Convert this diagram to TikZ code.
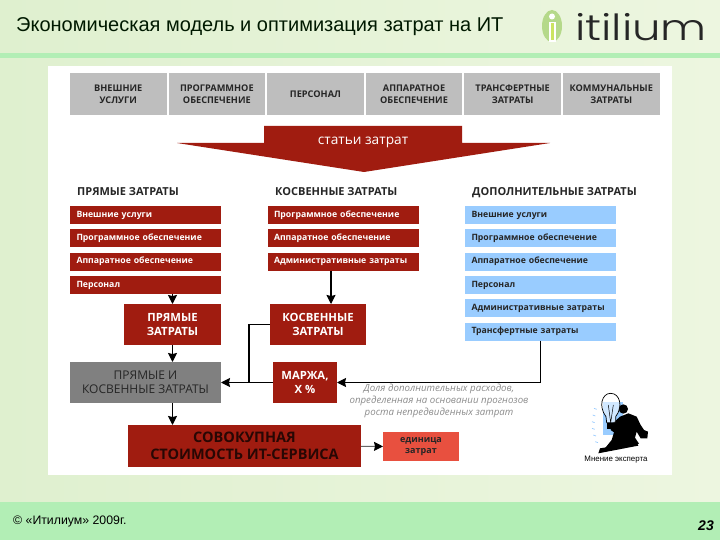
\documentclass[tikz,border=0pt]{standalone}
\usepackage{fontspec}
\setmainfont{Liberation Sans}
\newfontfamily\boxfont{Open Sans}
\newfontfamily\logofont[FakeStretch=1.25,UprightFont=* Light]{Poppins}
\usetikzlibrary{positioning,arrows.meta}
\definecolor{bgleft}{HTML}{DFF0CF}
\definecolor{bgright}{HTML}{EDF6E0}
\definecolor{band}{HTML}{B2EEB5}
\definecolor{topgray}{HTML}{BEBEBE}
\definecolor{midgray}{HTML}{808080}
\definecolor{darkred}{HTML}{A01C10}
\definecolor{addblue}{HTML}{99CCFF}
\definecolor{salmon}{HTML}{E8503F}
\definecolor{logogreen}{HTML}{B5D98A}
\tikzset{
  topbox/.style   = {fill=topgray, align=center, minimum height=42pt, minimum width=96.5pt, outer sep=0pt,
                     inner sep=0pt, text=black!85, font=\boxfont\fontsize{9.2}{12}\selectfont\bfseries},
  listbox/.style  = {align=left, minimum height=18pt, text width=138pt, inner xsep=6.5pt, inner ysep=0pt, outer sep=0pt,
                     text height=6.5pt, text depth=2pt, font=\boxfont\fontsize{8.7}{10}\selectfont\bfseries},
  cost/.style     = {listbox, fill=darkred, text=white},
  extra/.style    = {listbox, fill=addblue, text=black!85},
  head/.style     = {anchor=base west, inner sep=0pt, text=black!85, font=\boxfont\fontsize{11}{12}\selectfont\bfseries},
  sumbox/.style   = {fill=darkred, text=white, align=center, inner sep=0pt, outer sep=0pt, minimum height=41pt,
                     font=\boxfont\fontsize{11.3}{13.5}\selectfont\bfseries},
  arrow/.style    = {-{Stealth[length=9pt,width=9pt,inset=1pt]}, line width=1.1pt},
}
\begin{document}
\begin{tikzpicture}[x=1pt,y=-1pt,node distance=5.3pt and 2.1pt]
  \useasboundingbox (0,0) rectangle (720,540);
  \fill[left color=bgleft, right color=bgright] (0,0) rectangle (720,540);
  \fill[band] (0,53) rectangle (720,58);
  \fill[band] (0,502) rectangle (720,540);
  \fill[white] (48,66) rectangle (672,474.5);

  \node[anchor=west, inner sep=0pt, font=\fontsize{20}{22}\selectfont, text=black!90!green] (title) at (16,27)
    {Экономическая модель и оптимизация затрат на ИТ};
  \node[anchor=west, inner sep=0pt, font=\fontsize{12.3}{14}\selectfont] (copy) at (13,521) {© «Итилиум» 2009г.};
  \node[inner sep=0pt, font=\fontsize{14}{16}\selectfont\bfseries\itshape] (page) at (706,526) {23};

  % logo
  \fill[logogreen] (552,26) ellipse (10 and 16);
  \fill[white] (552,16.5) circle (3);
  \fill[white] (548.5,22) rectangle (555.5,42);
  \fill[logogreen!70!yellow] (550.5,23) rectangle (553.5,40);
  \node[anchor=base west, inner sep=0pt, font=\logofont\fontsize{36}{40}\selectfont, text=black!85] (logo) at (575,40.5) {itilium};

  % source row
  \node[topbox] (ext) at (118.25,94) {ВНЕШНИЕ\\УСЛУГИ};
  \node[topbox, right=of ext]  (soft) {ПРОГРАММНОЕ\\ОБЕСПЕЧЕНИЕ};
  \node[topbox, right=of soft] (staff) {ПЕРСОНАЛ};
  \node[topbox, right=of staff] (hard) {АППАРАТНОЕ\\ОБЕСПЕЧЕНИЕ};
  \node[topbox, right=of hard] (trans) {ТРАНСФЕРТНЫЕ\\ЗАТРАТЫ};
  \node[topbox, right=of trans] (util) {КОММУНАЛЬНЫЕ\\ЗАТРАТЫ};

  \fill[darkred] (264,126) -- (462,126) -- (462,143) -- (550,143) -- (364,172) -- (177,143) -- (264,143) -- cycle;
  \node[inner sep=0pt, text=white, font=\boxfont\fontsize{13.7}{15}\selectfont] (items) at (363,142) {статьи затрат};

  \node[head] (hDir) at (77,196) {ПРЯМЫЕ ЗАТРАТЫ};
  \node[head] (hInd) at (275,196) {КОСВЕННЫЕ ЗАТРАТЫ};
  \node[head] (hAdd) at (472,196) {ДОПОЛНИТЕЛЬНЫЕ ЗАТРАТЫ};

  \node[cost] (dirExt) at (145.5,215) {Внешние услуги};
  \node[cost, below=of dirExt]  (dirSoft) {Программное обеспечение};
  \node[cost, below=of dirSoft] (dirHard) {Аппаратное обеспечение};
  \node[cost, below=of dirHard] (dirStaff) {Персонал};

  \node[cost] (indSoft) at (343,215) {Программное обеспечение};
  \node[cost, below=of indSoft] (indHard) {Аппаратное обеспечение};
  \node[cost, below=of indHard] (indAdm) {Административные затраты};

  \node[extra] (addExt) at (540.5,215) {Внешние услуги};
  \node[extra, below=of addExt]   (addSoft) {Программное обеспечение};
  \node[extra, below=of addSoft]  (addHard) {Аппаратное обеспечение};
  \node[extra, below=of addHard]  (addStaff) {Персонал};
  \node[extra, below=of addStaff] (addAdm) {Административные затраты};
  \node[extra, below=of addAdm]   (addTrans) {Трансфертные затраты};

  \node[sumbox, minimum width=97pt] (sumDir) at (172.5,324.5) {ПРЯМЫЕ\\ЗАТРАТЫ};
  \node[sumbox, minimum width=96pt] (sumInd) at (318,324.5) {КОСВЕННЫЕ\\ЗАТРАТЫ};
  \node[sumbox, minimum width=151pt, fill=midgray, text=black!85, font=\boxfont\fontsize{12}{14}\selectfont] (both) at (145.5,382.5) {ПРЯМЫЕ И\\КОСВЕННЫЕ ЗАТРАТЫ};
  \node[sumbox, minimum width=64pt] (margin) at (305,382.5) {МАРЖА,\\Х \%};
  \node[sumbox, minimum width=233pt, minimum height=42pt, text=black!75!darkred, font=\boxfont\fontsize{14.5}{17}\selectfont\bfseries] (total) at (244.5,446) {СОВОКУПНАЯ\\СТОИМОСТЬ ИТ-СЕРВИСА};
  \node[sumbox, minimum width=76pt, minimum height=29pt, fill=salmon, text=black!85, font=\boxfont\fontsize{9}{11.5}\selectfont\bfseries] (unit) at (421,446.5) {единица\\затрат};

  \node[inner sep=0pt, align=center, text=black!45, font=\boxfont\fontsize{9.7}{12}\selectfont\itshape] (note) at (439,400.5)
    {Доля дополнительных расходов,\\определенная на основании прогнозов\\роста непредвиденных затрат};

  \coordinate (indDrop) at (331,300);
  \coordinate (joint) at (249,382.5);

  \draw[arrow] (sumDir |- dirStaff.south) -- (sumDir.north);
  \draw[arrow] (indDrop |- indAdm.south) -- (indDrop |- sumInd.north);
  \draw[arrow] (sumDir.south) -- (sumDir |- both.north);
  \draw[arrow] (sumDir |- both.south) -- (sumDir |- total.north);
  \draw[arrow] (margin) -- (both);
  \draw[line width=1.1pt] (sumInd.west) -| (joint);
  \draw[arrow] (addTrans.south) |- (margin.east);
  \draw[arrow, draw=black!60, -{Stealth[length=9pt,width=9pt,inset=1pt,black]}] (total) -- (unit);

  % expert picture
  \begin{scope}[shift={(570,385)},x=.3333pt,y=-.3333pt]
    \fill[addblue] (100,50) rectangle (160,150);
    \fill[black] (125,118) -- (150,95) -- (175,85) -- (200,95) -- (212,120) -- (222,135) -- (234,140) -- (232,160) -- (212,160)
      -- (200,140) -- (195,158) -- (207,176) -- (150,188) -- (100,196) -- (125,165) -- (132,142) -- (122,135) -- cycle;
    \fill[black] (160,72) circle (14);
    \fill[black] (90,190) -- (200,172) -- (205,182) -- (85,205) -- cycle;
    \draw[line width=.7pt, fill=white, fill opacity=.55] (108,95) .. controls (85,65) and (95,25) .. (122,25)
      .. controls (150,25) and (160,65) .. (137,95) -- (137,113) -- (110,113) -- cycle;
    \draw[line width=.5pt] (115,60) -- (122,113) -- (130,60);
    \fill[black] (110,113) rectangle (137,132);
    \foreach \y/\x in {70/72,90/68,110/66,130/66,150/70,170/76}
      \draw[addblue, line width=.7pt] (\x,\y) -- ++(8,3);
  \end{scope}
  \node[inner sep=0pt, font=\fontsize{7.9}{9}\selectfont] (expert) at (616,459.5) {Мнение эксперта};
\end{tikzpicture}
\end{document}
